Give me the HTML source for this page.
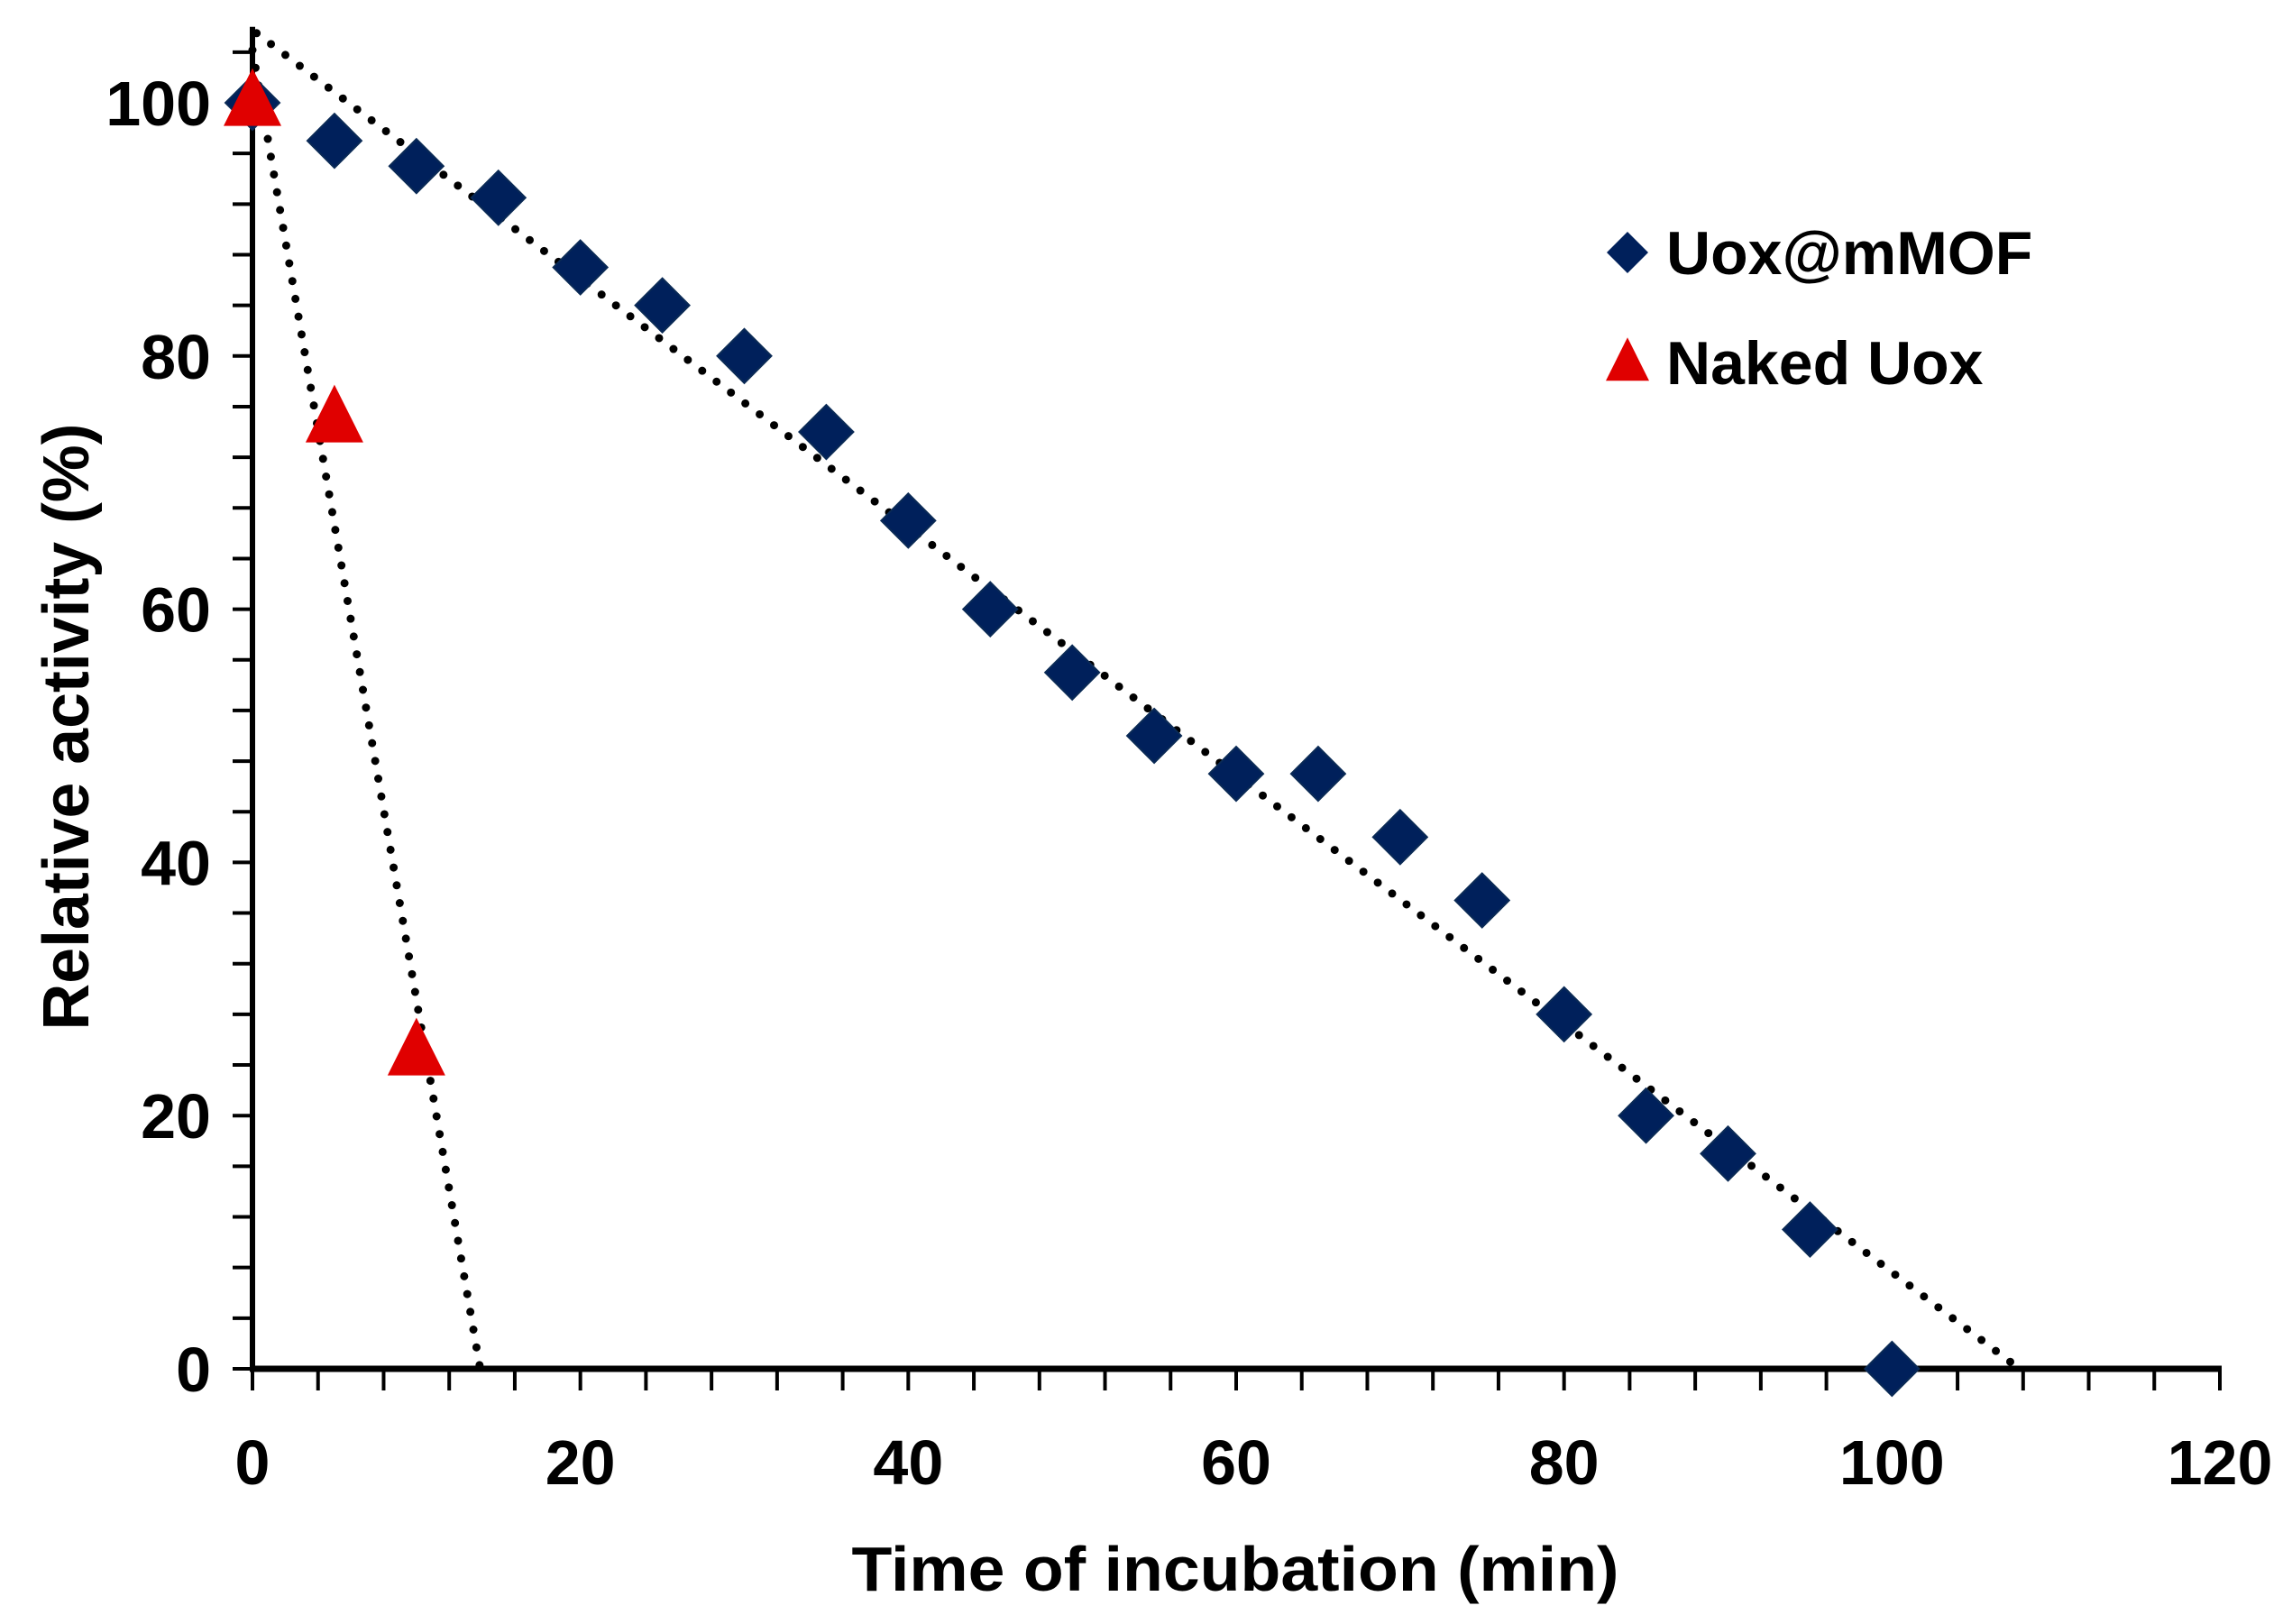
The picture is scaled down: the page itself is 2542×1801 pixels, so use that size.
<!DOCTYPE html>
<html><head><meta charset="utf-8"><style>
html,body{margin:0;padding:0;background:#fff;}
svg{display:block;}
text{font-family:"Liberation Sans",sans-serif;font-weight:bold;fill:#000;}
</style></head><body>
<svg id="chart" width="2542" height="1801" viewBox="0 0 2542 1801" xmlns="http://www.w3.org/2000/svg"></svg>
<script>
const mofTimes = [0,5,10,15,20,25,30,35,40,45,50,55,60,65,70,75,80,85,90,95,100];
const mofValues = [100,97,95,92.5,87,84,80,74,67,60,55,50,47,47,42,37,28,20,17,11,0];
const nakedTimes = [0,5,10];
const nakedValues = [100,75,25];
const xTickLabels = [0,20,40,60,80,100,120];
const yTickLabels = [0,20,40,60,80,100];

const NS="http://www.w3.org/2000/svg";
const svg=document.getElementById('chart');
const X0=280,X1=2462,Y0=1518,Y100=114;
const xs=v=>X0+(X1-X0)*v/120;
const ys=v=>Y0+(Y100-Y0)*v/100;
const yTop=ys(106);
function mk(tag,attrs,parent){const e=document.createElementNS(NS,tag);for(const k in attrs)e.setAttribute(k,attrs[k]);(parent||svg).appendChild(e);return e;}

function trend(xsArr,ysArr,name){
  const n=xsArr.length;let mx=0,my=0;for(let i=0;i<n;i++){mx+=xsArr[i];my+=ysArr[i];}mx/=n;my/=n;
  let sxy=0,sxx=0;for(let i=0;i<n;i++){sxy+=(xsArr[i]-mx)*(ysArr[i]-my);sxx+=(xsArr[i]-mx)**2;}
  const m=sxy/sxx,b=my-m*mx;
  let xa=0,ya=b; if(ya>105.5){ya=105.5;xa=(ya-b)/m;}
  const xb=-b/m;
  const l=mk('line',{x1:xs(xa),y1:ys(ya),x2:xs(xb),y2:ys(0),stroke:'#000','stroke-width':9,'stroke-dasharray':'0 20','stroke-linecap':'round'});
  
  
}
trend(mofTimes,mofValues,'trendline-uox-mmof');
trend(nakedTimes,nakedValues,'trendline-naked-uox');

const ax=mk('g',{});


mk('line',{x1:X0,y1:yTop,x2:X0,y2:Y0+3,stroke:'#000','stroke-width':6},ax);
mk('line',{x1:X0-3,y1:Y0,x2:X1+2,y2:Y0,stroke:'#000','stroke-width':7},ax);
for(let v=0;v<=120;v+=4){mk('line',{x1:xs(v),y1:Y0,x2:xs(v),y2:Y0+24,stroke:'#000','stroke-width':4},ax);}
for(let v=0;v<=104;v+=4){mk('line',{x1:X0-22,y1:ys(v),x2:X0,y2:ys(v),stroke:'#000','stroke-width':4},ax);}
xTickLabels.forEach(v=>{const t=mk('text',{x:xs(v),y:Y0+128,'font-size':70,'text-anchor':'middle'});t.textContent=v;

});
yTickLabels.forEach(v=>{const t=mk('text',{x:X0-46,y:ys(v)+25,'font-size':70,'text-anchor':'end'});t.textContent=v;

});
const xt=mk('text',{x:1370,y:1764,'font-size':70,'text-anchor':'middle',textLength:851,lengthAdjust:'spacingAndGlyphs'});xt.textContent='Time of incubation (min)';


const yt=mk('text',{x:0,y:0,'font-size':72,'text-anchor':'middle',transform:'translate(98,806) rotate(-90)',textLength:673,lengthAdjust:'spacingAndGlyphs'});yt.textContent='Relative activity (%)';



function diamond(cx,cy,r){return `${cx},${cy-r} ${cx+r},${cy} ${cx},${cy+r} ${cx-r},${cy}`;}
function tri(cx,cy,s){const h=s;return `${cx},${cy-h*0.6} ${cx+s/2},${cy+h*0.4} ${cx-s/2},${cy+h*0.4}`;}

mofTimes.forEach((t,i)=>{const p=mk('polygon',{points:diamond(xs(t),ys(mofValues[i]),30),fill:'#00205b',stroke:'#0a2a55','stroke-width':2});

});
nakedTimes.forEach((t,i)=>{const p=mk('polygon',{points:tri(xs(t),ys(nakedValues[i]),64),fill:'#e00000'});

});

const lg=mk('g',{});


mk('polygon',{points:diamond(1805,280,23),fill:'#00205b'},lg);
const l1=mk('text',{x:1848,y:304,'font-size':68},lg);l1.textContent='Uox@mMOF';


mk('polygon',{points:tri(1805,403,48),fill:'#e00000'},lg);
const l2=mk('text',{x:1848,y:426,'font-size':68},lg);l2.textContent='Naked Uox';


</script>
</body></html>
